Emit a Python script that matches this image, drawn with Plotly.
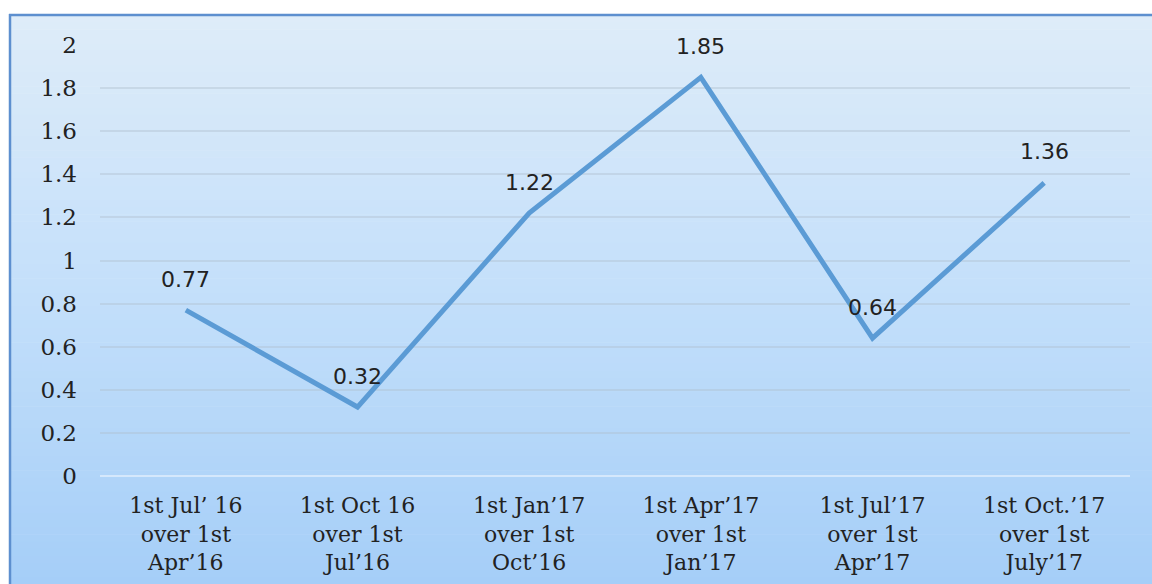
import plotly.graph_objects as go

# Quarterly change values
categories = [
    "1st Jul\u2019 16<br>over 1st<br>Apr\u201916",
    "1st Oct 16<br>over 1st<br>Jul\u201916",
    "1st Jan\u201917<br>over 1st<br>Oct\u201916",
    "1st Apr\u201917<br>over 1st<br>Jan\u201917",
    "1st Jul\u201917<br>over 1st<br>Apr\u201917",
    "1st Oct.\u201917<br>over 1st<br>July\u201917",
]
values = [0.77, 0.32, 1.22, 1.85, 0.64, 1.36]
y_ticks = [0, 0.2, 0.4, 0.6, 0.8, 1, 1.2, 1.4, 1.6, 1.8, 2]

W, H = 1152, 584
ML, MR, MT, MB = 100, 22, 45, 108
PW, PH = W - ML - MR, H - MT - MB


def px_x(p):
    return (p - ML) / PW


def px_y(p):
    return (H - MB - p) / PH


def lerp(c1, c2, t):
    return tuple(round(a + (b - a) * t) for a, b in zip(c1, c2))


# Vertical gradient panel behind the chart
stops = [(15, (222, 236, 249)), (300, (195, 223, 250)), (584, (165, 206, 248))]
shapes = []
n = 80
top, bottom = 15, 584
for i in range(n):
    y0 = top + (bottom - top) * i / n
    y1 = top + (bottom - top) * (i + 1) / n
    ym = (y0 + y1) / 2
    if ym <= stops[1][0]:
        c = lerp(stops[0][1], stops[1][1], (ym - stops[0][0]) / (stops[1][0] - stops[0][0]))
    else:
        c = lerp(stops[1][1], stops[2][1], (ym - stops[1][0]) / (stops[2][0] - stops[1][0]))
    shapes.append(dict(
        type="rect", xref="paper", yref="paper", layer="below",
        x0=px_x(10), x1=px_x(W + 2), y0=px_y(y1 + 0.6), y1=px_y(y0),
        fillcolor="rgb(%d,%d,%d)" % c, line=dict(width=0),
    ))

# Frame border on top and left
border = "#5d8fcf"
shapes.append(dict(type="line", xref="paper", yref="paper", layer="below",
                   x0=px_x(9), x1=px_x(W + 2), y0=px_y(15), y1=px_y(15),
                   line=dict(color=border, width=2.5)))
shapes.append(dict(type="line", xref="paper", yref="paper", layer="below",
                   x0=px_x(10), x1=px_x(10), y0=px_y(14), y1=px_y(H + 2),
                   line=dict(color=border, width=2.5)))

fig = go.Figure()
fig.add_trace(go.Scatter(
    x=categories, y=values, mode="lines",
    line=dict(color="#5b9bd5", width=5),
    hoverinfo="skip",
))

annotations = [
    dict(x=c, y=v, text=f"{v:.2f}", showarrow=False, yshift=31,
         font=dict(family="DejaVu Sans", size=22, color="#222222"))
    for c, v in zip(categories, values)
]

fig.update_layout(
    width=W, height=H,
    margin=dict(l=ML, r=MR, t=MT, b=MB, pad=0, autoexpand=False),
    paper_bgcolor="white",
    plot_bgcolor="rgba(0,0,0,0)",
    showlegend=False,
    shapes=shapes,
    annotations=annotations,
    xaxis=dict(
        type="category", range=[-0.5, len(categories) - 0.5],
        showgrid=False, zeroline=False, showline=False, automargin=False,
        tickfont=dict(family="DejaVu Serif", size=22, color="#222222"),
        ticklabelstandoff=14,
    ),
    yaxis=dict(
        range=[0, 2], tickvals=y_ticks, ticktext=[f"{t:g}" for t in y_ticks],
        showgrid=True, gridcolor="rgba(175,190,205,0.4)", gridwidth=1.5,
        zeroline=True, zerolinecolor="rgba(225,238,252,0.75)", zerolinewidth=2,
        showline=False, automargin=False,
        tickfont=dict(family="DejaVu Serif", size=23, color="#222222"),
        ticklabelstandoff=22,
    ),
)

fig.write_html("out.html")
